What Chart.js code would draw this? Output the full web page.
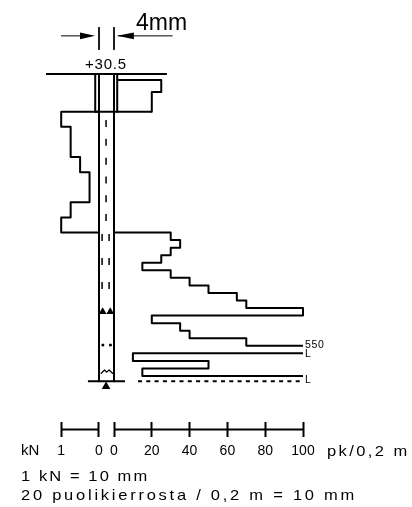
<!DOCTYPE html>
<html>
<head>
<meta charset="utf-8">
<title>Puolikierrossondaus</title>
<style>
  html, body { margin: 0; padding: 0; background: #fff; }
  canvas { display: block; }
</style>
<script src="https://cdn.jsdelivr.net/npm/chart.js@4"></script>
</head>
<body>
<canvas id="sondaus" width="412" height="507"></canvas>
<script>
// Depths in metres below the +30.5 level.
const kNTicks = [1, 0];
const pkTicks = [0, 20, 40, 60, 80, 100];

const kNDepths = [0.5, 0.5, 0.7, 1.1, 1.3, 1.7, 1.9, 2.1, 2.1];
const kNValues = [0, 1, 0.75, 0.5, 0.25, 0.75, 1, 0];

const pkUpperDepths = [0.08, 0.08, 0.24, 0.5];
const pkUpperValues = [1.6, 25, 20];

const pkLowerDepths = [2.1, 2.1, 2.2, 2.3, 2.4, 2.5, 2.6, 2.7, 2.8, 2.9, 3.0, 3.1, 3.2, 3.3, 3.4, 3.5, 3.6, 3.6];
const pkLowerValues = [0, 30, 35, 30, 25, 15, 30, 40, 50, 65, 70, 100, 20, 35, 40, 70, 100];

const pkBottomDepths = [3.7, 3.7, 3.8, 3.9, 4.0, 4.0];
const pkBottomValues = [100, 10, 50, 15, 100];

const topDepth = 0;
const casingDepth = 0.5;
const rodDepth = 4.07;

// pixel <-> value scale factors of the drawing
const pxPerMetre = 75.5;
const pxPerPk = 1.89;
const pxPerKN = 37.8;
const groundPx = 74;
const pkZeroPx = 114;
const kNZeroPx = 99;

// profile is constant inside each depth interval
function stepPoints(depths, values) {
    const pts = [];
    values.forEach((v, i) => {
        pts.push({ x: v, y: depths[i] });
        pts.push({ x: v, y: depths[i + 1] });
    });
    return pts;
}

function line(data, extra) {
    return Object.assign({
        data: data,
        showLine: true,
        pointRadius: 0,
        borderColor: "#000",
        backgroundColor: "#000",
        borderWidth: 2,
        borderJoinStyle: "round",
        borderCapStyle: "butt"
    }, extra || {});
}

function marks(data, style, radius, rotation) {
    return {
        data: data,
        showLine: false,
        pointStyle: style,
        pointRadius: radius,
        pointRotation: rotation || 0,
        pointBorderWidth: 0,
        pointBackgroundColor: "#000",
        pointBorderColor: "#000"
    };
}

const datasets = [
    // profiles
    line(stepPoints(kNDepths, kNValues), { xAxisID: "kN" }),
    line(stepPoints(pkUpperDepths, pkUpperValues)),
    line(stepPoints(pkLowerDepths, pkLowerValues)),
    line(stepPoints(pkBottomDepths, pkBottomValues)),
    line([{ x: 12.7, y: rodDepth }, { x: 100, y: rodDepth }], { borderDash: [4, 4.3] }),

    // rod and casing
    line([{ x: 0, y: topDepth }, { x: 0, y: rodDepth }]),
    line([{ x: 0, y: topDepth }, { x: 0, y: rodDepth }], { xAxisID: "kN" }),
    line([{ x: 1.7, y: topDepth }, { x: 1.7, y: casingDepth }]),
    line([{ x: 0.1, y: topDepth }, { x: 0.1, y: casingDepth }], { xAxisID: "kN" }),
    line([{ x: -10, y: casingDepth }, { x: 20, y: casingDepth }]),
    line([{ x: -36, y: topDepth }, { x: 28, y: topDepth }]),
    line([{ x: -13.8, y: rodDepth }, { x: 5.8, y: rodDepth }]),

    // centre dashes inside the rod
    line([{ x: -4.2, y: 0.61 }, { x: -4.2, y: 1.95 }], { borderDash: [7, 11.8], borderWidth: 1.5 }),
    line([{ x: -6.3, y: 2.12 }, { x: -6.3, y: 2.85 }], { borderDash: [7, 17], borderWidth: 1.5 }),
    line([{ x: -2.6, y: 2.12 }, { x: -2.6, y: 2.85 }], { borderDash: [7, 17], borderWidth: 1.5 }),

    // symbols
    marks([{ x: -6, y: 3.15 }, { x: -2, y: 3.15 }], "triangle", 4.5),
    marks([{ x: -5.9, y: 3.59 }, { x: -1.9, y: 3.59 }], "circle", 1.5),
    marks([{ x: -4.2, y: 4.14 }], "triangle", 5),
    line([{ x: -7, y: 3.97 }, { x: -5, y: 3.92 }, { x: -4, y: 3.95 }, { x: -2.6, y: 3.92 }, { x: -0.5, y: 3.97 }], { borderWidth: 1.2 }),

    // 4mm dimension
    line([{ x: 0, y: -0.62 }, { x: 0, y: -0.32 }], { borderWidth: 1 }),
    line([{ x: 0, y: -0.62 }, { x: 0, y: -0.32 }], { xAxisID: "kN", borderWidth: 1 }),
    line([{ x: -28, y: -0.505 }, { x: -12, y: -0.505 }], { borderWidth: 1 }),
    line([{ x: 2, y: -0.505 }, { x: 31, y: -0.505 }], { borderWidth: 1 }),
    line([{ x: -18, y: -0.55 }, { x: -10, y: -0.505 }, { x: -18, y: -0.46 }], { borderWidth: 0, fill: "shape" }),
    line([{ x: 10.5, y: -0.55 }, { x: 1.7, y: -0.505 }, { x: 10.5, y: -0.46 }], { borderWidth: 0, fill: "shape" }),

    // horizontal lines of the two scale bars
    line([{ x: 0, y: 4.71 }, { x: 100, y: 4.71 }]),
    line([{ x: 0, y: 4.71 }, { x: 1, y: 4.71 }], { xAxisID: "kN" })
];

// free texts of the figure, drawn on the canvas
const drawingTexts = {
    id: "drawingTexts",
    afterDraw(chart) {
        const c = chart.ctx;
        const t = (str, x, y, font, spacing, sx) => {
            c.save();
            c.translate(x, y);
            c.scale(sx || 1, 1);
            c.font = font;
            c.letterSpacing = spacing || "0px";
            c.textAlign = "left";
            c.textBaseline = "alphabetic";
            c.fillStyle = "#000";
            c.fillText(str, 0, 0);
            c.restore();
        };
        t("4mm", 136, 30, "23px 'Liberation Sans'");
        t("+30.5", 85, 69, "15px 'Liberation Sans'", "0.8px");
        t("550", 305, 348, "10.5px 'Liberation Sans'", "0.6px");
        t("L", 305, 357, "10.5px 'Liberation Sans'");
        t("L", 305, 383, "10.5px 'Liberation Sans'");
        t("kN", 21, 455, "15px 'Liberation Sans'");
        t("pk/0,2 m", 327, 456, "15px 'Liberation Sans'", "2.2px", 1.1);
        t("1 kN = 10 mm", 21, 481, "15px 'Liberation Sans'", "1.9px", 1.1);
        t("20 puolikierrosta / 0,2 m = 10 mm", 21, 500, "15px 'Liberation Sans'", "2.5px", 1.1);
    }
};

function scaleBar(ticks) {
    return {
        axis: "x",
        type: "linear",
        position: { y: 4.61 },
        afterBuildTicks: (scale) => { scale.ticks = ticks.map(v => ({ value: v })); },
        border: { display: false },
        grid: { drawOnChartArea: false, drawTicks: true, tickLength: 15, tickWidth: 2, tickColor: "#000" },
        ticks: {
            autoSkip: false,
            maxRotation: 0,
            padding: 6,
            color: "#000",
            font: { family: "'Liberation Sans'", size: 14 },
            callback: (v) => String(v)
        }
    };
}

new Chart(document.getElementById("sondaus"), {
    type: "scatter",
    data: { datasets: datasets },
    options: {
        responsive: false,
        animation: false,
        layout: { padding: 0, autoPadding: false },
        plugins: { legend: { display: false }, tooltip: { enabled: false } },
        scales: {
            x: Object.assign(scaleBar(pkTicks), {
                min: -pkZeroPx / pxPerPk,
                max: (412 - pkZeroPx) / pxPerPk
            }),
            kN: Object.assign(scaleBar(kNTicks), {
                reverse: true,
                min: (kNZeroPx - 412) / pxPerKN,
                max: kNZeroPx / pxPerKN
            }),
            y: {
                display: false,
                reverse: true,
                min: -groundPx / pxPerMetre,
                max: (507 - groundPx) / pxPerMetre
            }
        }
    },
    plugins: [drawingTexts]
});
</script>
</body>
</html>
